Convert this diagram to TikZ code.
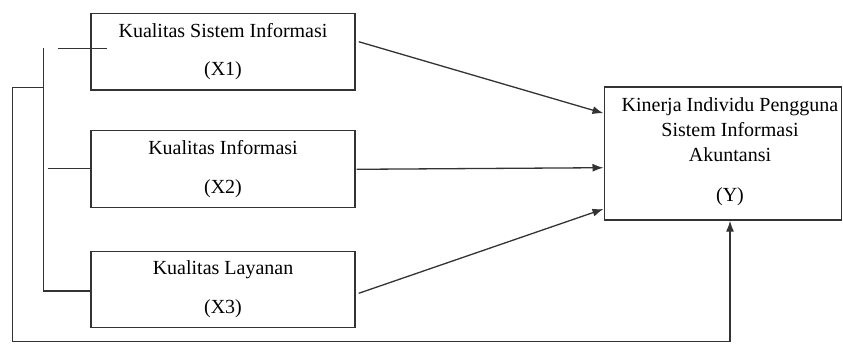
\documentclass[tikz,border=0pt]{standalone}
\usepackage{fontspec}
\setmainfont{Liberation Serif}
\usetikzlibrary{arrows.meta}
\begin{document}
\begin{tikzpicture}[x=1pt,y=-1pt,
  box/.style={draw=black!80,line width=1.3pt,minimum width=#1,inner sep=0pt},
  lbl/.style={align=center,font=\fontsize{20}{25}\selectfont,text=black,inner sep=0pt},
  ln/.style={draw=black!80,line width=1.3pt},
  arr/.style={ln,-{Latex[length=11pt,width=8pt]}}]
\useasboundingbox (0,0) rectangle (843,343);
% boxes
\node[box=264pt,minimum height=76.7pt] (x1) at (223,51.7) {};
\node[box=264pt,minimum height=76.7pt] (x2) at (223,169) {};
\node[box=264pt,minimum height=76.4pt] (x3) at (223,289.5) {};
\node[box=237.5pt,minimum height=133pt] (y) at (723,153.5) {};
% texts
\node[lbl] (t1) at (x1.center) {Kualitas Sistem Informasi\\[13.7pt](X1)};
\node[lbl] (t2) at (x2.center) {Kualitas Informasi\\[13.7pt](X2)};
\node[lbl] (t3) at (x3.center) {Kualitas Layanan\\[13.7pt](X3)};
\node[lbl] (ty) at (730,152) {Kinerja Individu Pengguna\\Sistem Informasi\\Akuntansi\\[15pt](Y)};
% coordinates
\coordinate (b1) at (43.7,48.3);
\coordinate (b3) at (43.7,291);
\coordinate (s1a) at (58,48.3);
\coordinate (s1b) at (107,48.3);
\coordinate (s2a) at (47.7,168.3);
\coordinate (bj) at (43.7,87.3);
\coordinate (lj) at (12.7,87.3);
\coordinate (lb) at (12.7,341.7);
\coordinate (rb) at (730,341.7);
\coordinate (a1s) at (358.7,41.7);
\coordinate (a1e) at (603.5,113.3);
\coordinate (a2s) at (356.7,169.3);
\coordinate (a2e) at (603.5,167.7);
\coordinate (a3s) at (358.7,293.3);
\coordinate (a3e) at (603.5,209);
% connectors
\draw[ln] (b1) -- (b3) -- (x3.west |- b3);
\draw[ln] (s1a) -- (s1b);
\draw[ln] (s2a) -- (x2.west |- s2a);
\draw[ln] (bj) -- (lj) -- (lb) -- (rb);
\draw[arr] (rb) -- (rb |- y.south);
\draw[arr] (a1s) -- (a1e);
\draw[arr] (a2s) -- (a2e);
\draw[arr] (a3s) -- (a3e);
\end{tikzpicture}
\end{document}
